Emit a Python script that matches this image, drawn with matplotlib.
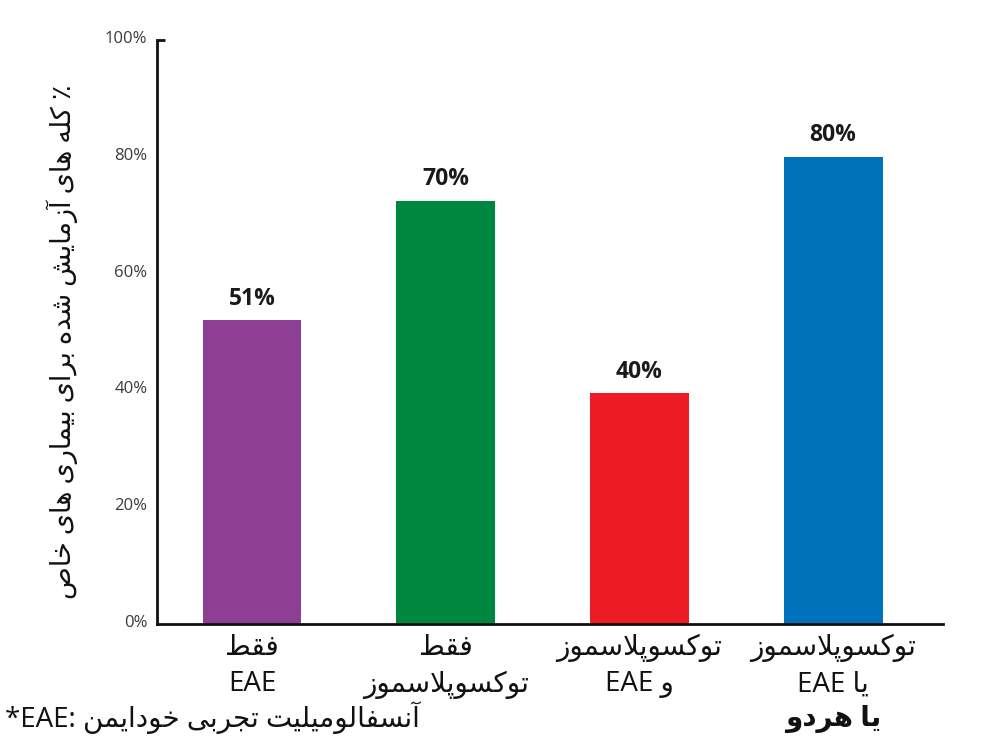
import matplotlib
matplotlib.use("Agg")
import matplotlib.pyplot as plt
import matplotlib.transforms as mtransforms

# ---------------- data ----------------
bar_heights = [52, 72.5, 39.5, 80]          # measured bar heights (%)
value_labels = ["51%", "70%", "40%", "80%"]  # printed labels
bar_colors = ["#8D3F96", "#00873F", "#ED1C24", "#0072BC"]
cat_line1 = ["فقط", "فقط", "توکسوپلاسموز", "توکسوپلاسموز"]
cat_line2 = ["EAE", "توکسوپلاسموز", "و EAE", "یا EAE"]
cat_line3 = ["", "", "", "یا هردو"]
y_ticks = [0, 20, 40, 60, 80, 100]
y_label = "کله های آزمایش شده برای بیماری های خاص"
footnote_key = "*EAE:"
footnote_text = "آنسفالومیلیت تجربی خودایمن"

# ---------------- simple Arabic/Persian shaping ----------------
FORMS = {
    '\u0627': (0xFE8D, 0xFE8E, None, None),
    '\u0622': (0xFE81, 0xFE82, None, None),
    '\u0628': (0xFE8F, 0xFE90, 0xFE91, 0xFE92),
    '\u067E': (0xFB56, 0xFB57, 0xFB58, 0xFB59),
    '\u062A': (0xFE95, 0xFE96, 0xFE97, 0xFE98),
    '\u062B': (0xFE99, 0xFE9A, 0xFE9B, 0xFE9C),
    '\u062C': (0xFE9D, 0xFE9E, 0xFE9F, 0xFEA0),
    '\u0686': (0xFB7A, 0xFB7B, 0xFB7C, 0xFB7D),
    '\u062D': (0xFEA1, 0xFEA2, 0xFEA3, 0xFEA4),
    '\u062E': (0xFEA5, 0xFEA6, 0xFEA7, 0xFEA8),
    '\u062F': (0xFEA9, 0xFEAA, None, None),
    '\u0630': (0xFEAB, 0xFEAC, None, None),
    '\u0631': (0xFEAD, 0xFEAE, None, None),
    '\u0632': (0xFEAF, 0xFEB0, None, None),
    '\u0698': (0xFB8A, 0xFB8B, None, None),
    '\u0633': (0xFEB1, 0xFEB2, 0xFEB3, 0xFEB4),
    '\u0634': (0xFEB5, 0xFEB6, 0xFEB7, 0xFEB8),
    '\u0635': (0xFEB9, 0xFEBA, 0xFEBB, 0xFEBC),
    '\u0636': (0xFEBD, 0xFEBE, 0xFEBF, 0xFEC0),
    '\u0637': (0xFEC1, 0xFEC2, 0xFEC3, 0xFEC4),
    '\u0638': (0xFEC5, 0xFEC6, 0xFEC7, 0xFEC8),
    '\u0639': (0xFEC9, 0xFECA, 0xFECB, 0xFECC),
    '\u063A': (0xFECD, 0xFECE, 0xFECF, 0xFED0),
    '\u0641': (0xFED1, 0xFED2, 0xFED3, 0xFED4),
    '\u0642': (0xFED5, 0xFED6, 0xFED7, 0xFED8),
    '\u06A9': (0xFB8E, 0xFB8F, 0xFB90, 0xFB91),
    '\u06AF': (0xFB92, 0xFB93, 0xFB94, 0xFB95),
    '\u0644': (0xFEDD, 0xFEDE, 0xFEDF, 0xFEE0),
    '\u0645': (0xFEE1, 0xFEE2, 0xFEE3, 0xFEE4),
    '\u0646': (0xFEE5, 0xFEE6, 0xFEE7, 0xFEE8),
    '\u0647': (0xFEE9, 0xFEEA, 0xFEEB, 0xFEEC),
    '\u0648': (0xFEED, 0xFEEE, None, None),
    '\u06CC': (0xFBFC, 0xFBFD, 0xFBFE, 0xFBFF),
    '\u064A': (0xFEF1, 0xFEF2, 0xFEF3, 0xFEF4),
}


def shape(s):
    chars = list(s)
    n = len(chars)

    def joins_prev(i):
        if i == 0:
            return False
        p, c = chars[i - 1], chars[i]
        return c in FORMS and p in FORMS and FORMS[p][2] is not None

    def joins_next(i):
        if i >= n - 1:
            return False
        c, nx = chars[i], chars[i + 1]
        return c in FORMS and FORMS[c][2] is not None and nx in FORMS

    out = []
    i = 0
    while i < n:
        c = chars[i]
        if c == '\u0644' and i + 1 < n and chars[i + 1] in ('\u0627', '\u0622'):
            lig = (0xFEFB, 0xFEFC) if chars[i + 1] == '\u0627' else (0xFEF5, 0xFEF6)
            out.append(chr(lig[1] if joins_prev(i) else lig[0]))
            i += 2
            continue
        if c in FORMS:
            iso, fin, ini, med = FORMS[c]
            jp, jn = joins_prev(i), joins_next(i)
            if jp and jn:
                g = med
            elif jp:
                g = fin
            elif jn:
                g = ini
            else:
                g = iso
            out.append(chr(g))
        else:
            out.append(c)
        i += 1
    return ''.join(out)


def rtl(s):
    return shape(s)[::-1]


def visual(s):
    # mixed line: Persian word(s) followed by a Latin run, e.g. "و EAE"
    if "EAE" in s and s.strip() != "EAE":
        fa = s.replace("EAE", "").strip()
        return "EAE " + rtl(fa)
    if s == "EAE" or s == "":
        return s
    return rtl(s)


FAM = ["Open Sans", "DejaVu Sans"]
plt.rcParams['font.family'] = FAM

# ---------------- figure ----------------
fig = plt.figure(figsize=(10, 7.39), dpi=100)
ax = fig.add_axes([0.157, 1 - 624 / 739, 0.786, 584 / 739])

x = list(range(len(bar_heights)))
ax.bar(x, bar_heights, width=0.51, color=bar_colors, zorder=2)
ax.set_xlim(-0.49, 3.567)
ax.set_ylim(0, 100)

for spine in ("top", "right"):
    ax.spines[spine].set_visible(False)
for spine in ("left", "bottom"):
    ax.spines[spine].set_linewidth(2.0)
    ax.spines[spine].set_color("#111111")

ax.yaxis.remove_overlapping_locs = False
ax.set_yticks(y_ticks)
ax.set_yticklabels([f"{t}%" for t in y_ticks])
ax.tick_params(axis="y", length=0, pad=7, labelsize=12, labelcolor="#3a3a3a")
ax.set_yticks([100], minor=True)
ax.tick_params(axis="y", which="minor", direction="in", length=6, width=2, color="#111111")
ax.set_xticks([])
off = mtransforms.ScaledTranslation(0, 3 / 100, fig.dpi_scale_trans)
for lab in ax.get_yticklabels():
    lab.set_transform(lab.get_transform() + off)

for xi, h, lab in zip(x, bar_heights, value_labels):
    ax.annotate(lab, (xi, h), xytext=(0, 7), textcoords="offset points",
                ha="center", va="bottom", fontsize=16.5, fontweight="bold",
                color="#1a1a1a")

trans = ax.get_xaxis_transform()
for xi, l1, l2, l3 in zip(x, cat_line1, cat_line2, cat_line3):
    for txt, dy, bold in ((l1, 17.5, False), (l2, 43.5, False), (l3, 68, True)):
        if not txt:
            continue
        ax.annotate(visual(txt), (xi, 0), xycoords=trans, xytext=(0, -dy),
                    textcoords="offset points", ha="center", va="center",
                    fontsize=20, fontweight="bold" if bold else "normal",
                    color="#111111", annotation_clip=False)

fig.text(0.062, 1 - 342 / 739, rtl(y_label) + " \u066A", rotation=90,
         ha="center", va="center", fontsize=19.5, color="#111111")

fig.text(0.005, 1 - 718 / 739, footnote_key + " " + rtl(footnote_text),
         ha="left", va="center", fontsize=20, color="#111111")

fig.savefig("out.png", dpi=100)
